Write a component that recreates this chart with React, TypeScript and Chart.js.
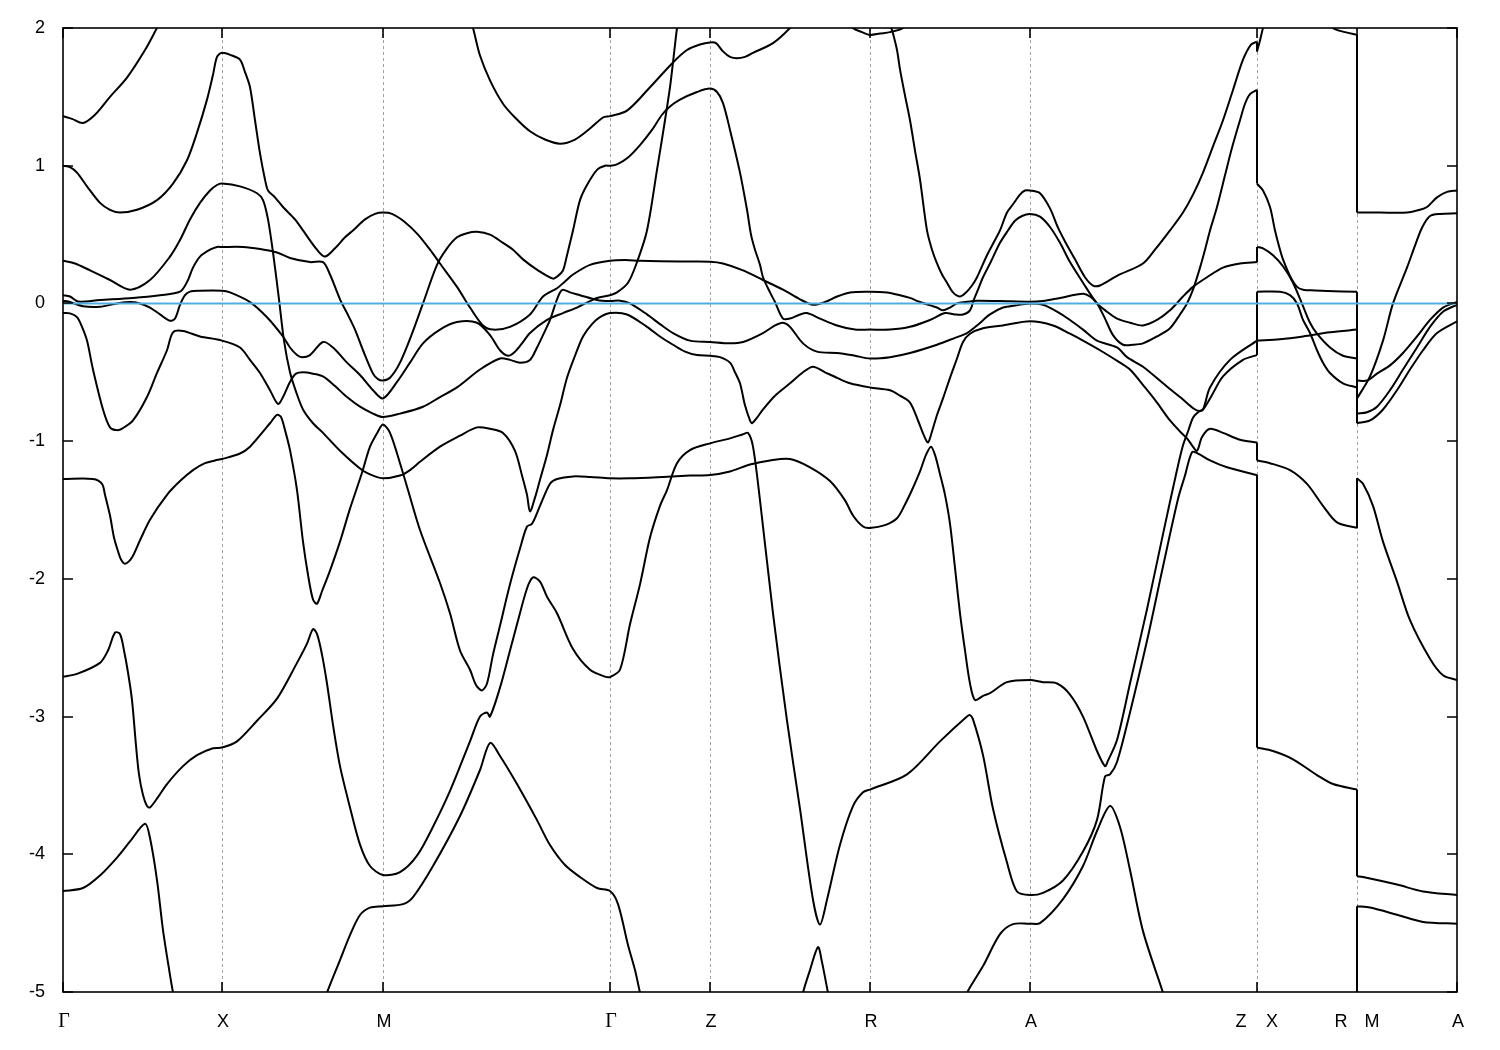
import React, { useEffect, useRef } from "react";
import { Chart, registerables } from "chart.js";

Chart.register(...registerables);

// k-path positions (path distance, arbitrary units) of the high-symmetry points
const kTicks = [0, 159, 320, 547, 647, 807, 967, 1194, 1294, 1394];
const kTickLabels = [["Γ"], ["X"], ["M"], ["Γ"], ["Z"], ["R"], ["A"], ["Z", "X"], ["R", "M"], ["A"]];
const energyTicks = [2, 1, 0, -1, -2, -3, -4, -5];
const fermiLevel = 0;
const kMin = 0;
const kMax = 1394;
const eMin = -5;
const eMax = 2;

// bands: [k, E (eV)] ; values above 2 / below -5 lie outside the window
const band1: [number, number][] = [
  [0, 1.36], [9, 1.34], [20, 1.31], [32, 1.37], [47, 1.5], [64, 1.64], [82, 1.84], [94, 2.0], [107, 2.17],
  [250, 2.8], [400, 2.8],
  [407, 2.06], [410, 2.0], [417, 1.8], [427, 1.62], [440, 1.45], [452, 1.35], [467, 1.25], [482, 1.19], [497, 1.16],
  [512, 1.19], [527, 1.27], [540, 1.35], [547, 1.36], [564, 1.4], [587, 1.57], [610, 1.75], [624, 1.84], [637, 1.88],
  [647, 1.895], [653, 1.89], [660, 1.83], [667, 1.79], [674, 1.78], [682, 1.79], [690, 1.82], [710, 1.89], [727, 2.0], [737, 2.09],
  [780, 2.8],
  [823, 2.13], [827, 2.03], [830, 1.96], [834, 1.84], [837, 1.7], [842, 1.51], [847, 1.33], [852, 1.11], [857, 0.9],
  [864, 0.53], [869, 0.39], [874, 0.29], [879, 0.21], [884, 0.15], [890, 0.08], [897, 0.05], [903, 0.08], [909, 0.13],
  [914, 0.19], [924, 0.35], [932, 0.46], [937, 0.53], [944, 0.66], [950, 0.72], [957, 0.79], [962, 0.82], [967, 0.82],
  [977, 0.8], [987, 0.69], [995, 0.55], [1002, 0.45], [1012, 0.32], [1022, 0.19], [1030, 0.13], [1037, 0.13], [1054, 0.2],
  [1080, 0.29], [1092, 0.39], [1107, 0.53], [1120, 0.66], [1130, 0.79], [1140, 0.95], [1150, 1.14], [1160, 1.33],
  [1170, 1.55], [1180, 1.77], [1188, 1.88], [1194, 1.9],
  [1194, 1.83], [1197, 1.91], [1200, 2.0], [1204, 2.09], [1240, 2.8], [1262, 2.09], [1270, 2.0], [1282, 1.97], [1294, 1.95],
  [1294, 0.66], [1317, 0.66], [1344, 0.66], [1357, 0.68], [1364, 0.7], [1374, 0.77], [1384, 0.81], [1394, 0.82],
];

const band2: [number, number][] = [
  [0, 1.0], [7, 0.99], [14, 0.95], [24, 0.85], [37, 0.73], [47, 0.68], [57, 0.66], [74, 0.68], [94, 0.75], [110, 0.87],
  [124, 1.04], [134, 1.24], [144, 1.48], [150, 1.66], [154, 1.79], [159, 1.82],
  [169, 1.8], [177, 1.77], [182, 1.68], [187, 1.57], [192, 1.33], [197, 1.09], [202, 0.9], [205, 0.82], [212, 0.77],
  [220, 0.7], [232, 0.61], [240, 0.53], [254, 0.39], [262, 0.34], [272, 0.4], [282, 0.48], [290, 0.53], [302, 0.61],
  [312, 0.65], [320, 0.66],
  [329, 0.65], [342, 0.59], [355, 0.5], [367, 0.39], [377, 0.29], [394, 0.12], [407, -0.03], [420, -0.16], [430, -0.19],
  [447, -0.17], [467, -0.08], [480, 0.05], [494, 0.11], [502, 0.16], [510, 0.21], [527, 0.28], [547, 0.31],
  [562, 0.315], [577, 0.31], [617, 0.304], [647, 0.303],
  [660, 0.29], [680, 0.24], [700, 0.17], [720, 0.1], [737, 0.03], [750, -0.01], [762, 0.01], [774, 0.05], [787, 0.08], [807, 0.085],
  [824, 0.08], [837, 0.06], [847, 0.04], [857, 0.01], [874, -0.03], [880, -0.05], [887, -0.03], [894, 0.0], [902, 0.01],
  [914, 0.02], [937, 0.017], [967, 0.012],
  [980, 0.017], [997, 0.04], [1020, 0.07], [1027, 0.05], [1034, 0.0], [1042, -0.11], [1050, -0.23], [1060, -0.3],
  [1070, -0.3], [1080, -0.29], [1094, -0.24], [1107, -0.18], [1117, -0.08], [1124, 0.0], [1130, 0.1], [1137, 0.26],
  [1142, 0.39], [1147, 0.53], [1154, 0.7], [1162, 0.93], [1169, 1.13], [1177, 1.33], [1182, 1.45], [1187, 1.52], [1194, 1.55],
  [1194, 0.87], [1200, 0.82], [1207, 0.7], [1212, 0.53], [1217, 0.39], [1220, 0.32], [1227, 0.2], [1234, 0.12], [1240, 0.1],
  [1252, 0.094], [1264, 0.09], [1294, 0.085],
  [1294, -0.56], [1304, -0.56], [1314, -0.51], [1327, -0.45], [1340, -0.36], [1354, -0.24], [1367, -0.12], [1380, -0.03], [1394, 0.01],
];

const band3: [number, number][] = [
  [0, 0.31], [12, 0.29], [27, 0.24], [47, 0.17], [67, 0.1], [87, 0.17], [107, 0.34], [117, 0.46], [127, 0.61], [137, 0.73],
  [147, 0.82], [154, 0.86], [159, 0.87],
  [177, 0.85], [194, 0.8], [200, 0.75], [205, 0.61], [210, 0.37], [216, 0.03], [221, -0.27], [227, -0.5], [233, -0.64],
  [240, -0.77], [250, -0.87], [260, -0.94], [277, -1.07], [299, -1.21], [310, -1.25], [320, -1.27],
  [337, -1.25], [347, -1.21], [357, -1.15], [377, -1.04], [397, -0.96], [414, -0.9], [427, -0.91], [440, -0.94],
  [452, -1.07], [459, -1.25], [464, -1.39], [467, -1.51], [472, -1.41], [477, -1.28], [484, -1.1], [490, -0.92],
  [497, -0.74], [504, -0.54], [512, -0.38], [520, -0.24], [529, -0.15], [537, -0.1], [547, -0.07],
  [564, -0.08], [584, -0.17], [597, -0.24], [610, -0.3], [622, -0.35], [634, -0.375], [647, -0.38],
  [657, -0.39], [667, -0.43], [672, -0.5], [677, -0.58], [682, -0.74], [687, -0.85], [689, -0.87], [694, -0.83],
  [700, -0.77], [712, -0.67], [727, -0.58], [740, -0.5], [750, -0.46], [762, -0.5], [774, -0.54], [787, -0.58], [807, -0.61],
  [827, -0.63], [837, -0.67], [847, -0.72], [855, -0.85], [861, -0.96], [865, -1.01], [869, -0.93], [874, -0.81],
  [880, -0.69], [887, -0.54], [894, -0.4], [900, -0.28], [907, -0.22], [920, -0.18], [940, -0.16], [967, -0.13],
  [990, -0.16], [1007, -0.22], [1020, -0.27], [1037, -0.34], [1057, -0.43], [1067, -0.48], [1082, -0.61], [1094, -0.72],
  [1107, -0.85], [1117, -0.93], [1124, -0.98], [1129, -1.03], [1134, -1.07], [1139, -0.97], [1147, -0.91], [1160, -0.94],
  [1177, -0.99], [1194, -1.01],
  [1194, -1.14], [1207, -1.16], [1227, -1.21], [1244, -1.31], [1260, -1.47], [1274, -1.59], [1294, -1.63],
  [1294, -1.27], [1300, -1.31], [1310, -1.47], [1320, -1.73], [1334, -2.02], [1347, -2.3], [1367, -2.58], [1380, -2.7], [1394, -2.735],
];

const band4: [number, number][] = [
  [0, 0.06], [7, 0.05], [15, 0.014], [37, 0.025], [70, 0.04], [97, 0.06], [117, 0.085], [124, 0.155], [130, 0.26],
  [137, 0.34], [147, 0.39], [154, 0.41], [159, 0.41],
  [180, 0.41], [197, 0.395], [214, 0.37], [227, 0.33], [247, 0.3], [260, 0.3], [267, 0.21], [277, 0.03], [284, -0.07],
  [292, -0.19], [300, -0.34], [310, -0.51], [315, -0.55], [320, -0.56],
  [327, -0.54], [337, -0.43], [349, -0.22], [360, 0.0], [374, 0.28], [384, 0.4], [394, 0.48], [404, 0.51], [414, 0.52],
  [427, 0.5], [440, 0.44], [450, 0.39], [460, 0.32], [475, 0.24], [490, 0.18], [495, 0.2], [500, 0.24], [504, 0.35],
  [510, 0.53], [517, 0.75], [524, 0.86], [534, 0.97], [542, 1.0], [547, 1.0],
  [554, 1.01], [565, 1.06], [577, 1.15], [589, 1.26], [599, 1.37], [607, 1.43], [617, 1.48], [634, 1.535], [647, 1.56],
  [654, 1.535], [660, 1.455], [667, 1.26], [677, 0.95], [684, 0.68], [688, 0.5], [692, 0.39], [697, 0.28], [700, 0.19],
  [707, 0.08], [712, 0.01], [720, -0.11], [727, -0.11], [737, -0.08], [744, -0.07], [757, -0.11], [774, -0.16], [792, -0.19], [807, -0.19],
  [827, -0.19], [847, -0.17], [867, -0.12], [882, -0.07], [892, -0.08], [900, -0.08], [907, -0.05], [911, 0.03], [915, 0.1],
  [920, 0.19], [927, 0.29], [937, 0.44], [945, 0.53], [952, 0.6], [959, 0.635], [967, 0.65],
  [977, 0.63], [987, 0.555], [997, 0.44], [1007, 0.3], [1020, 0.15], [1034, 0.0], [1044, -0.06], [1054, -0.11],
  [1067, -0.14], [1080, -0.16], [1094, -0.12], [1107, -0.05], [1120, 0.05], [1130, 0.12], [1144, 0.19], [1160, 0.26],
  [1177, 0.29], [1194, 0.3],
  [1194, 0.41], [1200, 0.4], [1210, 0.35], [1220, 0.27], [1230, 0.15], [1240, -0.02], [1247, -0.14], [1254, -0.22],
  [1267, -0.32], [1280, -0.38], [1294, -0.4],
  [1294, -0.8], [1304, -0.79], [1314, -0.75], [1327, -0.63], [1340, -0.48], [1354, -0.32], [1367, -0.17], [1380, -0.06], [1394, -0.01],
];

const band5: [number, number][] = [
  [0, 0.02], [7, 0.01], [20, -0.02], [37, -0.024], [54, 0.0], [67, 0.01], [77, 0.0], [87, -0.03], [97, -0.08],
  [107, -0.126], [112, -0.11], [117, -0.01], [122, 0.06], [127, 0.086], [137, 0.092], [159, 0.092],
  [167, 0.08], [187, 0.01], [204, -0.1], [220, -0.24], [227, -0.32], [234, -0.375], [239, -0.39], [247, -0.375],
  [260, -0.28], [270, -0.32], [284, -0.43], [297, -0.52], [310, -0.63], [320, -0.69],
  [334, -0.57], [347, -0.43], [360, -0.29], [377, -0.19], [394, -0.135], [414, -0.14], [427, -0.23], [437, -0.34],
  [445, -0.38], [452, -0.35], [459, -0.29], [467, -0.215], [484, -0.12], [500, -0.07], [514, -0.03], [527, 0.017],
  [534, 0.04], [547, 0.06],
  [554, 0.08], [565, 0.15], [574, 0.3], [584, 0.53], [594, 0.97], [602, 1.33], [607, 1.57], [610, 1.75], [614, 2.0], [617, 2.13],
  [700, 2.8],
  [782, 2.09], [790, 2.0], [799, 1.97], [807, 1.95], [817, 1.96], [827, 1.97], [840, 2.0], [849, 2.09],
];

const band6: [number, number][] = [
  [0, -0.07], [7, -0.072], [14, -0.1], [19, -0.17], [24, -0.27], [30, -0.48], [40, -0.77], [47, -0.9], [54, -0.92],
  [60, -0.905], [70, -0.85], [84, -0.68], [94, -0.505], [104, -0.34], [110, -0.21], [120, -0.2], [137, -0.24], [159, -0.27],
  [177, -0.32], [187, -0.41], [197, -0.505], [207, -0.63], [215, -0.73], [220, -0.68], [227, -0.57], [233, -0.51],
  [240, -0.5], [250, -0.51], [260, -0.53], [272, -0.6], [284, -0.68], [297, -0.75], [310, -0.8], [320, -0.825],
  [337, -0.8], [360, -0.75], [377, -0.68], [394, -0.61], [417, -0.48], [437, -0.4], [447, -0.41], [457, -0.43],
  [467, -0.41], [474, -0.32], [480, -0.23], [487, -0.12], [493, 0.01], [497, 0.08], [500, 0.1], [507, 0.08], [517, 0.06],
  [534, 0.025], [547, 0.017],
  [557, 0.02], [567, 0.0], [584, -0.08], [597, -0.15], [610, -0.215], [627, -0.27], [647, -0.28],
  [667, -0.29], [680, -0.28], [700, -0.215], [712, -0.16], [720, -0.14], [727, -0.17], [740, -0.29], [754, -0.35],
  [774, -0.36], [792, -0.38], [807, -0.4],
  [827, -0.39], [847, -0.36], [874, -0.3], [892, -0.25], [904, -0.215], [914, -0.16], [927, -0.08], [940, -0.03],
  [952, -0.015], [967, 0.0],
  [980, -0.01], [994, -0.06], [1007, -0.12], [1020, -0.19], [1034, -0.27], [1054, -0.32], [1064, -0.39], [1080, -0.46],
  [1100, -0.58], [1117, -0.68], [1125, -0.73], [1130, -0.76], [1135, -0.78], [1140, -0.77], [1149, -0.665], [1160, -0.53],
  [1180, -0.41], [1194, -0.375],
  [1194, -0.27], [1217, -0.26], [1240, -0.24], [1267, -0.21], [1294, -0.19],
  [1294, -0.69], [1307, -0.53], [1320, -0.27], [1330, 0.0], [1344, 0.26], [1352, 0.42], [1359, 0.55], [1367, 0.635],
  [1377, 0.65], [1394, 0.654],
];

const band7: [number, number][] = [
  [0, -1.275], [30, -1.275], [39, -1.31], [42, -1.39], [47, -1.54], [51, -1.7], [55, -1.8], [58, -1.86], [62, -1.89],
  [69, -1.845], [77, -1.72], [87, -1.57], [104, -1.39], [117, -1.29], [130, -1.21], [142, -1.16], [152, -1.14], [159, -1.13],
  [177, -1.09], [187, -1.04], [199, -0.94], [207, -0.87], [214, -0.81], [218, -0.825], [222, -0.92], [227, -1.065],
  [234, -1.355], [240, -1.73], [245, -1.97], [250, -2.15], [254, -2.18], [259, -2.09], [267, -1.94], [277, -1.73],
  [287, -1.49], [299, -1.23], [307, -1.04], [315, -0.93], [320, -0.88],
  [327, -0.94], [337, -1.16], [345, -1.355], [357, -1.645], [377, -2.03], [387, -2.25], [397, -2.52], [407, -2.66],
  [413, -2.77], [419, -2.81], [424, -2.76], [430, -2.55], [437, -2.34], [447, -2.04], [457, -1.78], [464, -1.62],
  [469, -1.6], [477, -1.47], [487, -1.31], [494, -1.275], [510, -1.256], [527, -1.26], [547, -1.27],
  [567, -1.27], [600, -1.26], [627, -1.25], [647, -1.246],
  [667, -1.22], [687, -1.17], [707, -1.14], [727, -1.13], [747, -1.19], [767, -1.29], [782, -1.43], [790, -1.54],
  [800, -1.62], [807, -1.63],
  [822, -1.61], [834, -1.56], [842, -1.46], [849, -1.355], [857, -1.22], [863, -1.1], [868, -1.04], [872, -1.1],
  [877, -1.24], [882, -1.39], [887, -1.6], [892, -1.92], [897, -2.25], [902, -2.52], [907, -2.76], [912, -2.88],
  [920, -2.85], [927, -2.83], [944, -2.75], [967, -2.735],
  [980, -2.75], [994, -2.76], [1007, -2.84], [1020, -3.0], [1034, -3.25], [1042, -3.36], [1045, -3.32], [1054, -3.17],
  [1067, -2.76], [1084, -2.22], [1100, -1.675], [1114, -1.21], [1120, -1.03], [1125, -0.93], [1130, -0.83],
  [1135, -0.79], [1140, -0.77], [1147, -0.61], [1167, -0.41], [1194, -0.27],
  [1194, 0.085], [1217, 0.085], [1227, 0.06], [1234, 0.0], [1240, -0.12], [1247, -0.215], [1254, -0.34], [1260, -0.43],
  [1267, -0.505], [1280, -0.58], [1294, -0.61],
  [1294, -0.87], [1307, -0.85], [1320, -0.77], [1334, -0.63], [1347, -0.48], [1360, -0.34], [1374, -0.215], [1394, -0.13],
];

const band8: [number, number][] = [
  [0, -2.71], [14, -2.69], [37, -2.61], [45, -2.52], [52, -2.39], [57, -2.4], [61, -2.52], [65, -2.68], [69, -2.88],
  [73, -3.21], [76, -3.42], [80, -3.57], [84, -3.65], [87, -3.66], [95, -3.585], [104, -3.49], [120, -3.36], [134, -3.28],
  [150, -3.23], [159, -3.225],
  [174, -3.18], [194, -3.03], [214, -2.87], [234, -2.61], [244, -2.47], [250, -2.365], [254, -2.4], [259, -2.55],
  [264, -2.76], [270, -3.06], [277, -3.36], [287, -3.66], [297, -3.93], [307, -4.085], [320, -4.15],
  [337, -4.13], [354, -4.01], [370, -3.8], [387, -3.54], [407, -3.18], [417, -3.0], [424, -2.97], [427, -3.0], [437, -2.79],
  [447, -2.52], [454, -2.33], [464, -2.07], [470, -1.99], [477, -2.02], [484, -2.13], [494, -2.25], [510, -2.51],
  [527, -2.66], [542, -2.71], [547, -2.713],
  [557, -2.66], [567, -2.33], [577, -2.04], [587, -1.7], [597, -1.47], [604, -1.355], [614, -1.16], [627, -1.065], [647, -1.016],
  [667, -0.98], [680, -0.95], [685, -0.94], [690, -1.04], [697, -1.43], [710, -2.25], [724, -3.03], [737, -3.67],
  [750, -4.33], [757, -4.51], [764, -4.33], [777, -3.93], [790, -3.65], [800, -3.55], [807, -3.53],
  [844, -3.42], [877, -3.18], [904, -3.0], [907, -2.99], [910, -3.02], [920, -3.28], [930, -3.67], [944, -4.06],
  [954, -4.27], [967, -4.296],
  [980, -4.28], [1000, -4.19], [1020, -3.98], [1034, -3.75], [1042, -3.435], [1047, -3.42], [1054, -3.33], [1067, -2.97],
  [1084, -2.45], [1100, -1.91], [1115, -1.42], [1122, -1.25], [1129, -1.08], [1135, -1.09], [1147, -1.14], [1164, -1.19], [1194, -1.246],
  [1194, -3.225], [1210, -3.25], [1230, -3.31], [1254, -3.425], [1270, -3.49], [1294, -3.53],
  [1294, -4.16], [1300, -4.165], [1334, -4.22], [1360, -4.27], [1394, -4.296],
];

const band9: [number, number][] = [
  [0, -4.267], [20, -4.245], [37, -4.154], [54, -4.024], [67, -3.907], [82, -3.778], [87, -3.882], [94, -4.187],
  [100, -4.55], [107, -4.877], [110, -5.005], [113, -5.13],
  [200, -5.6],
  [259, -5.13], [264, -5.005], [277, -4.768], [287, -4.587], [297, -4.441], [307, -4.387], [320, -4.377], [340, -4.362],
  [350, -4.311], [370, -4.085], [397, -3.722], [417, -3.388], [427, -3.192], [437, -3.286], [454, -3.49], [474, -3.752],
  [487, -3.933], [502, -4.078], [517, -4.165], [534, -4.245], [547, -4.267],
  [555, -4.362], [565, -4.659], [572, -4.841], [577, -5.005], [580, -5.1],
  [660, -5.6],
  [737, -5.13], [740, -5.005], [747, -4.841], [755, -4.674], [759, -4.783], [765, -5.005], [768, -5.1],
  [840, -5.6],
  [899, -5.1], [904, -5.005], [920, -4.812], [937, -4.58], [950, -4.507], [967, -4.504],
  [977, -4.5], [1000, -4.325], [1020, -4.085], [1034, -3.831], [1047, -3.65], [1057, -3.802], [1067, -4.114],
  [1080, -4.558], [1100, -5.005], [1104, -5.1],
  [1200, -5.6], [1294, -5.6],
  [1294, -4.377], [1307, -4.387], [1334, -4.439], [1360, -4.491], [1394, -4.504],
];

const bands = [band1, band2, band3, band4, band5, band6, band7, band8, band9];

const SANS = '"Liberation Sans", Arial, Helvetica, sans-serif';
const SERIF = '"Liberation Serif", "Times New Roman", serif';

// split a band where two consecutive points share the same k (path discontinuity),
// so each continuous piece can be smoothed and the jump drawn as a straight vertical line
function splitAtJumps(band: [number, number][]): [number, number][][] {
  const pieces: [number, number][][] = [];
  let cur: [number, number][] = [band[0]];
  for (let i = 1; i < band.length; i++) {
    const p = band[i];
    const q = band[i - 1];
    if (p[0] === q[0]) {
      pieces.push(cur);
      pieces.push([q, p]);
      cur = [p];
    } else {
      cur.push(p);
    }
  }
  pieces.push(cur);
  return pieces;
}

const decorPlugin = {
  id: "bandDecor",
  beforeDatasetsDraw(chart: any) {
    const { ctx, chartArea, scales } = chart;
    const xs = scales.x;
    ctx.save();
    ctx.strokeStyle = "#a0a0a0";
    ctx.lineWidth = 1;
    ctx.setLineDash([3, 3]);
    for (let i = 1; i < kTicks.length - 1; i++) {
      const px = Math.round(xs.getPixelForValue(kTicks[i])) + 0.5;
      ctx.beginPath();
      ctx.moveTo(px, chartArea.top);
      ctx.lineTo(px, chartArea.bottom);
      ctx.stroke();
    }
    ctx.restore();
  },
  afterDatasetsDraw(chart: any) {
    const { ctx, chartArea, scales } = chart;
    const { left, right, top, bottom } = chartArea;
    const xs = scales.x;
    const ys = scales.y;
    ctx.save();
    ctx.setLineDash([]);
    ctx.strokeStyle = "#000";
    ctx.lineWidth = 1.6;
    ctx.strokeRect(left, top, right - left, bottom - top);
    const tl = 10;
    energyTicks.forEach((v) => {
      const py = Math.round(ys.getPixelForValue(v));
      ctx.beginPath();
      ctx.moveTo(left, py);
      ctx.lineTo(left + tl, py);
      ctx.moveTo(right, py);
      ctx.lineTo(right - tl, py);
      ctx.stroke();
    });
    kTicks.forEach((k) => {
      const px = Math.round(xs.getPixelForValue(k));
      ctx.beginPath();
      ctx.moveTo(px, bottom);
      ctx.lineTo(px, bottom - tl);
      ctx.moveTo(px, top);
      ctx.lineTo(px, top + tl);
      ctx.stroke();
    });
    ctx.fillStyle = "#000";
    ctx.font = `18px ${SANS}`;
    ctx.textAlign = "right";
    ctx.textBaseline = "middle";
    energyTicks.forEach((v) => {
      ctx.fillText(String(v), left - 18, ys.getPixelForValue(v));
    });
    ctx.textAlign = "center";
    ctx.textBaseline = "alphabetic";
    kTickLabels.forEach((labels, i) => {
      const px = xs.getPixelForValue(kTicks[i]);
      const offsets = labels.length === 2 ? [-16, 15] : [1];
      labels.forEach((lab, j) => {
        ctx.font = lab === "Γ" ? `20px ${SERIF}` : `18px ${SANS}`;
        ctx.fillText(lab, px + offsets[j], bottom + 35);
      });
    });
    ctx.restore();
  },
};

export default function App() {
  const canvasRef = useRef<HTMLCanvasElement | null>(null);

  useEffect(() => {
    if (!canvasRef.current) return;
    const bandDatasets: any[] = [];
    bands.forEach((b, i) => {
      splitAtJumps(b).forEach((piece, j) => {
        bandDatasets.push({
          label: `band ${i + 1} (${j})`,
          data: piece.map(([k, e]) => ({ x: k, y: e })),
          borderColor: "#000000",
          borderWidth: 2,
          pointRadius: 0,
          tension: piece.length > 2 ? 0.3 : 0,
          fill: false,
        });
      });
    });
    const datasets: any[] = [
      {
        label: "Fermi level",
        data: [
          { x: kMin, y: fermiLevel },
          { x: kMax, y: fermiLevel },
        ],
        borderColor: "#4fade3",
        borderWidth: 2,
        pointRadius: 0,
        tension: 0,
        fill: false,
      },
      ...bandDatasets,
    ];
    const chart = new Chart(canvasRef.current, {
      type: "line",
      data: { datasets },
      options: {
        responsive: false,
        animation: false,
        devicePixelRatio: 1,
        events: [],
        layout: { padding: { left: 63, right: 43, top: 28, bottom: 58 } },
        elements: { line: { capBezierPoints: false } },
        plugins: { legend: { display: false }, tooltip: { enabled: false } },
        scales: {
          x: { type: "linear", min: kMin, max: kMax, display: false },
          y: { type: "linear", min: eMin, max: eMax, display: false },
        },
      },
      plugins: [decorPlugin],
    } as any);
    return () => chart.destroy();
  }, []);

  return (
    <div style={{ position: "absolute", left: 0, top: 0, width: 1500, height: 1050, background: "#fff" }}>
      <canvas ref={canvasRef} width={1500} height={1050} style={{ width: 1500, height: 1050, display: "block" }} />
    </div>
  );
}
